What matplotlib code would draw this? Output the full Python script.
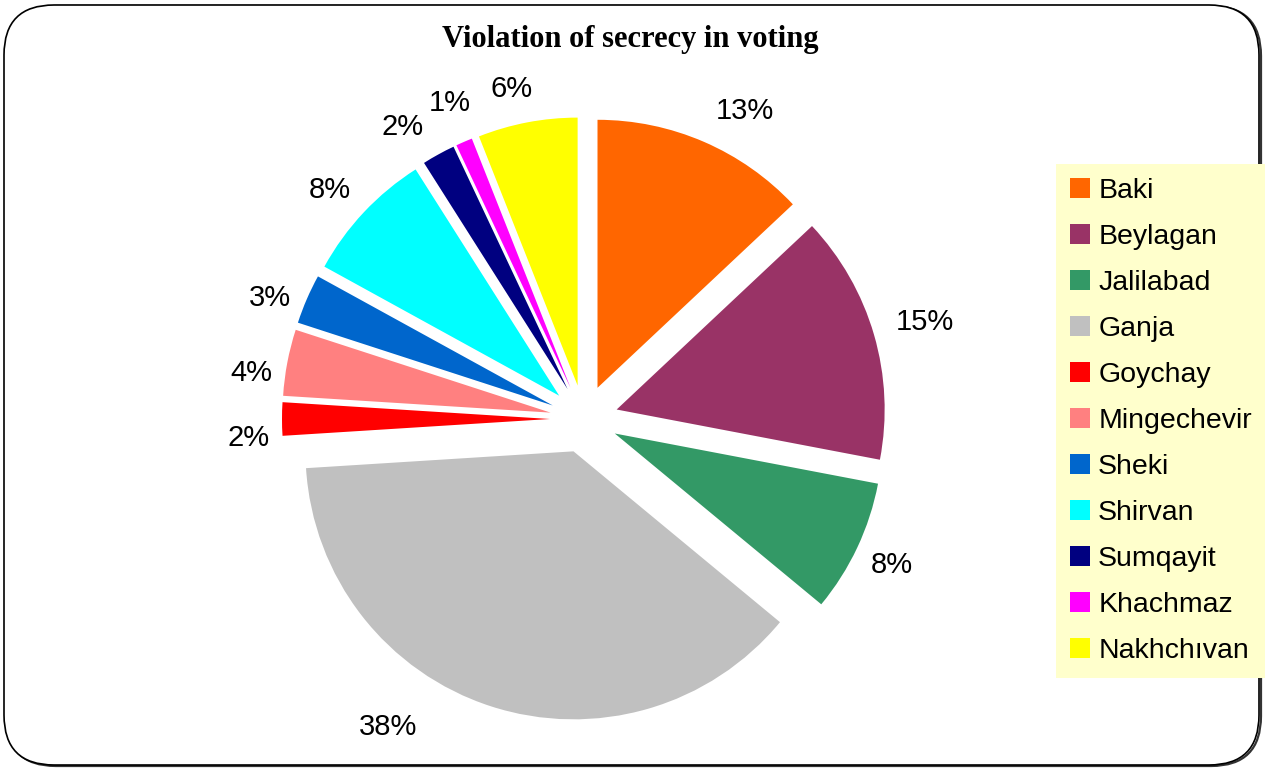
import numpy as np
import matplotlib
matplotlib.use("Agg")
import matplotlib.pyplot as plt
from matplotlib.patches import FancyBboxPatch

# ---------------- DATA ----------------
regions = ["Baki", "Beylagan", "Jalilabad", "Ganja", "Goychay", "Mingechevir",
           "Sheki", "Shirvan", "Sumqayit", "Khachmaz", "Nakhchıvan"]
shares = [13, 15, 8, 38, 2, 4, 3, 8, 2, 1, 6]
colors = ["#FF6600", "#993366", "#339966", "#C0C0C0", "#FF0000", "#FF8080",
          "#0066CC", "#00FFFF", "#000080", "#FF00FF", "#FFFF00"]
title = "Violation of secrecy in voting"

# where the original puts each % label (degrees clockwise from top, px from centre)
label_angle = [27.6, 74.1, 115.4, 212.5, 266.8, 277.9, 291.1, 312.0, 328.2, 337.0, 347.7]
label_dist = [347, 354, 341, 365, 336, 336, 337, 342, 344, 343, 338]

W, H = 1265, 769

plt.rcParams["font.family"] = ["Liberation Sans", "DejaVu Sans"]

fig = plt.figure(figsize=(W / 100, H / 100), dpi=100)
ax = fig.add_axes([0, 0, 1, 1])

# ---------------- FRAME ----------------
shadow = FancyBboxPatch((6, 3), W - 10, H - 9,
                        boxstyle="round,pad=0,rounding_size=50",
                        fc="none", ec="#333333", lw=1.6, zorder=0)
frame = FancyBboxPatch((4, 4), W - 10, H - 9,
                       boxstyle="round,pad=0,rounding_size=50",
                       fc="white", ec="black", lw=1.2, zorder=1)
ax.add_patch(shadow)
ax.add_patch(frame)

# ---------------- PIE ----------------
cx, cy = 584, H - 419
radius = 268
wedges, texts, autotexts = ax.pie(
    shares, colors=colors, startangle=90, counterclock=False,
    center=(cx, cy), radius=radius, explode=[34] * len(shares),
    autopct="%1.0f%%", pctdistance=1.15, labels=None,
    wedgeprops=dict(linewidth=0, zorder=2),
    textprops=dict(fontsize=21, color="black"))

for t, a, d in zip(autotexts, label_angle, label_dist):
    a = np.deg2rad(a)
    t.set_position((cx + d * np.sin(a), cy + d * np.cos(a)))

ax.set_xlim(0, W)
ax.set_ylim(0, H)
ax.set_aspect("auto")
ax.axis("off")

# ---------------- TITLE ----------------
ax.text(630, H - 47, title, ha="center", va="baseline", fontsize=22,
        fontweight="bold", family=["Liberation Serif", "DejaVu Serif"])

# ---------------- LEGEND ----------------
leg = ax.legend(wedges, regions, loc="upper left",
                bbox_to_anchor=(1056 / W, 1 - 164 / H), borderaxespad=0,
                fontsize=20.5, frameon=True, facecolor="#FFFFCC",
                edgecolor="none", fancybox=False, framealpha=1,
                handlelength=0.7, handleheight=0.7, handletextpad=0.28,
                labelspacing=0.70, borderpad=0.5)
leg.get_frame().set_linewidth(0)

fig.savefig("out.png", dpi=100)
